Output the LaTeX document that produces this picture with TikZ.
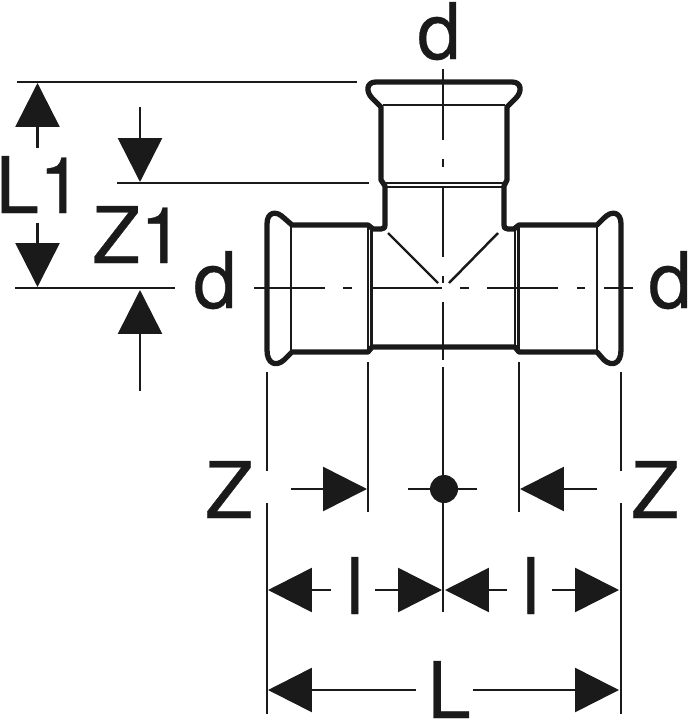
\documentclass[tikz,border=0pt]{standalone}
\usepackage{fontspec}
\newfontfamily\dimfont[FakeBold=0.4]{TeX Gyre Heros}
\usetikzlibrary{arrows.meta}
\definecolor{ink}{HTML}{1A1A1A}
\begin{document}
\begin{tikzpicture}[
    x=0.02cm, y=-0.02cm,
    outline/.style={draw=ink, line width=3pt, line join=round},
    thinline/.style={draw=ink, line width=1.4pt},
    centerline/.style={draw=ink, line width=1.5pt},
    dimline/.style={draw=ink, line width=1.5pt, -{Triangle[length=0.88cm, width=0.88cm, color=ink]}},
    label/.style={font=\fontsize{44.5}{50}\dimfont, text=ink, inner sep=0pt, anchor=base}
]
    \useasboundingbox (0,0) rectangle (689,720);

    % Fitting outline
    \draw[outline] (376,82) -- (512,82)
        .. controls (522,82) and (522,92) .. (516,98) -- (507,107) -- (507,180) -- (504,186) -- (504,224)
        .. controls (504,228) and (505,229) .. (508,229) -- (514,229) -- (519,225) -- (597,225) -- (604,218)
        .. controls (612,210) and (621,212) .. (621,224) -- (621,350)
        .. controls (621,364) and (612,367) .. (604,360) -- (597,352) -- (519,352) -- (515,347) -- (372,347) -- (368,352) -- (292,352) -- (284,360)
        .. controls (276,367) and (267,364) .. (267,350) -- (267,224)
        .. controls (267,212) and (276,210) .. (284,218) -- (292,225) -- (368,225) -- (373,229) -- (381,229)
        .. controls (384,229) and (385,228) .. (385,224) -- (385,186) -- (381,180) -- (381,107) -- (372,98)
        .. controls (366,92) and (366,82) .. (376,82) -- cycle;

    % Inner lines
    \draw[thinline] (383,105) -- (505,105);
    \draw[thinline] (383,183) -- (505,183);
    \draw[thinline] (385,187) -- (504,187);
    \draw[thinline] (291,225) -- (291,352);
    \draw[thinline] (368,225) -- (368,350);
    \draw[thinline] (371.5,228) -- (371.5,347);
    \draw[thinline] (515,228) -- (515,347);
    \draw[thinline] (518.5,225) -- (518.5,350);
    \draw[thinline] (597,225) -- (597,352);
    \draw[thinline] (388,233) -- (438,283);
    \draw[thinline] (498,233) -- (449,283);

    % Center lines
    \draw[centerline] (443,69) -- (443,140);
    \draw[centerline] (443,159) -- (443,167);
    \draw[centerline] (443,186) -- (443,257);
    \draw[centerline] (443,276) -- (443,283);
    \draw[centerline] (443,302) -- (443,360);
    \draw[centerline] (443,367) -- (443,612);
    \draw[centerline] (254,288) -- (325,288);
    \draw[centerline] (343,288) -- (352,288);
    \draw[centerline] (371,288) -- (442,288);
    \draw[centerline] (460,288) -- (469,288);
    \draw[centerline] (487,288) -- (558,288);
    \draw[centerline] (577,288) -- (585,288);
    \draw[centerline] (604,288) -- (633,288);

    % Extension lines
    \draw[centerline] (17,82) -- (357,82);
    \draw[centerline] (117,183) -- (369,183);
    \draw[centerline] (15,288) -- (175,288);
    \draw[centerline] (267,372) -- (267,471);
    \draw[centerline] (267,503) -- (267,714);
    \draw[centerline] (621,372) -- (621,471);
    \draw[centerline] (621,503) -- (621,714);
    \draw[centerline] (368,362) -- (368,512);
    \draw[centerline] (519,362) -- (519,512);

    % Arrows left
    \draw[dimline] (37.5,148) -- (37.5,83);
    \draw[dimline] (37.5,223) -- (37.5,287);
    \draw[dimline] (140,107) -- (140,182);
    \draw[dimline] (140,391) -- (140,290);

    % Arrows below
    \draw[dimline] (291,489) -- (367,489);
    \draw[dimline] (597,489) -- (520,489);
    \draw[dimline] (331,590) -- (268,590);
    \draw[dimline] (375,590) -- (442,590);
    \draw[dimline] (507,590) -- (445,590);
    \draw[dimline] (552,590) -- (619,590);
    \draw[dimline] (416,690) -- (268,690);
    \draw[dimline] (473,690) -- (619,690);

    % Center mark
    \draw[centerline] (408,489) -- (477,489);
    \fill[ink] (444,489) circle (14);

    % Labels
    \node[label] (dtop) at (439,59) {d};
    \node[label] (dleft) at (215,308) {d};
    \node[label] (dright) at (670,308) {d};
    \node[label] (lone) at (39,213) {L1};
    \node[label] (zone) at (138,263) {Z1};
    \node[label] (zleft) at (229,518) {Z};
    \node[label] (zright) at (655,518) {Z};
    \node[label] (lleft) at (355,614) {l};
    \node[label] (lright) at (531,614) {l};
    \node[label] (lbottom) at (449,718) {L};
\end{tikzpicture}
\end{document}
